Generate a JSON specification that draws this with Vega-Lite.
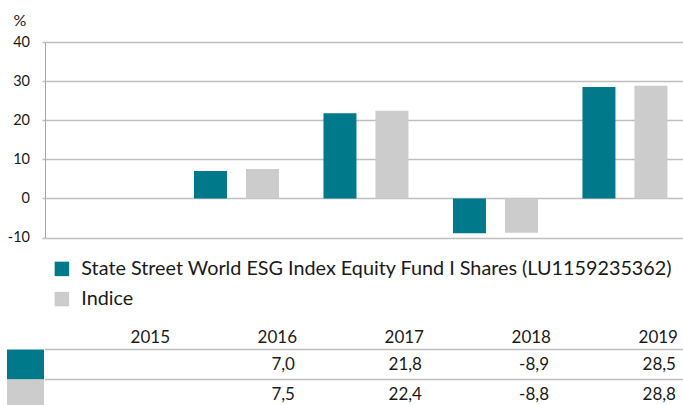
{
  "$schema": "https://vega.github.io/schema/vega-lite/v6.json",
  "padding": {"left": 7, "top": 12, "right": 0, "bottom": 0},
  "bounds": "flush",
  "spacing": 81.5,
  "config": {
    "font": "Lato",
    "view": {"stroke": null},
    "locale": {"number": {"decimal": ",", "thousands": ".", "grouping": [3], "currency": ["", " €"], "minus": "-"}},
    "text": {"color": "#1A1A1A"}
  },
  "datasets": {
    "returns": [
      {"year": "2015", "series": "State Street World ESG Index Equity Fund I Shares (LU1159235362)", "value": null},
      {"year": "2015", "series": "Indice", "value": null},
      {"year": "2016", "series": "State Street World ESG Index Equity Fund I Shares (LU1159235362)", "value": 7.0},
      {"year": "2016", "series": "Indice", "value": 7.5},
      {"year": "2017", "series": "State Street World ESG Index Equity Fund I Shares (LU1159235362)", "value": 21.8},
      {"year": "2017", "series": "Indice", "value": 22.4},
      {"year": "2018", "series": "State Street World ESG Index Equity Fund I Shares (LU1159235362)", "value": -8.9},
      {"year": "2018", "series": "Indice", "value": -8.8},
      {"year": "2019", "series": "State Street World ESG Index Equity Fund I Shares (LU1159235362)", "value": 28.5},
      {"year": "2019", "series": "Indice", "value": 28.8}
    ]
  },
  "data": {"name": "returns"},
  "vconcat": [
    {
      "width": 638,
      "height": 195.5,
      "mark": {"type": "bar"},
      "encoding": {
        "x": {"field": "year", "type": "nominal", "scale": {"domain": ["2015", "2016", "2017", "2018", "2019"], "paddingInner": 0.073, "paddingOuter": 0, "align": 0}, "axis": null},
        "xOffset": {"field": "series", "type": "nominal", "scale": {"domain": ["State Street World ESG Index Equity Fund I Shares (LU1159235362)", "Indice"], "paddingInner": 0.3654, "paddingOuter": 0.337, "align": 0.556}},
        "y": {
          "field": "value", "type": "quantitative",
          "scale": {"domain": [-10, 40], "nice": false, "zero": false},
          "axis": {
            "values": [-10, 0, 10, 20, 30, 40],
            "grid": true, "gridColor": "#BFBFBF", "gridWidth": 1.5,
            "domainColor": "#A6A6A6", "domainWidth": 1,
            "tickColor": "#BFBFBF", "tickSize": 3, "tickWidth": 1.5,
            "labelFontSize": 14.5, "labelColor": "#1A1A1A", "labelPadding": 12.5,
            "title": "%", "titleAngle": 0, "titleAlign": "left", "titleBaseline": "top",
            "titleX": -32, "titleY": -30, "titleFontSize": 16, "titleFontWeight": "normal", "titleColor": "#1A1A1A"
          }
        },
        "color": {
          "field": "series", "type": "nominal",
          "scale": {"domain": ["State Street World ESG Index Equity Fund I Shares (LU1159235362)", "Indice"], "range": ["#007A8A", "#CCCCCC"]},
          "legend": {
            "orient": "none", "legendX": 7, "legendY": 217, "direction": "vertical", "title": null,
            "symbolType": "square", "symbolSize": 210, "symbolStrokeWidth": 0, "symbolOpacity": 1,
            "labelFontSize": 19.8, "labelOffset": 9.5, "rowPadding": 9.2, "labelColor": "#1A1A1A", "labelLimit": 0, "padding": 0
          }
        }
      }
    },
    {
      "width": 638,
      "height": 90,
      "resolve": {"scale": {"x": "independent"}},
      "layer": [
        {
          "transform": [{"aggregate": [{"op": "count", "as": "n"}], "groupby": ["series"]}],
          "mark": {"type": "rect"},
          "encoding": {
            "x": {"datum": "swatch", "type": "nominal", "scale": {"type": "band", "domain": ["swatch"], "range": [-38, -1], "paddingInner": 0, "paddingOuter": 0}, "axis": null},
            "y": {"field": "series", "type": "nominal", "scale": {"type": "band", "domain": ["header", "State Street World ESG Index Equity Fund I Shares (LU1159235362)", "Indice"], "paddingInner": 0, "paddingOuter": 0}, "axis": null},
            "color": {"field": "series", "type": "nominal", "legend": null}
          }
        },
        {
          "transform": [{"aggregate": [{"op": "count", "as": "n"}], "groupby": ["series"]}],
          "mark": {"type": "rule", "color": "#BFBFBF", "strokeWidth": 1.5},
          "encoding": {
            "y": {"field": "series", "type": "nominal", "bandPosition": 0, "scale": {"type": "band", "domain": ["header", "State Street World ESG Index Equity Fund I Shares (LU1159235362)", "Indice"], "paddingInner": 0, "paddingOuter": 0}, "axis": null}
          }
        },
        {
          "transform": [{"filter": "isValid(datum.value)"}],
          "mark": {"type": "text", "align": "right", "baseline": "middle", "fontSize": 17, "dx": -2},
          "encoding": {
            "x": {"field": "year", "type": "nominal", "bandPosition": 1, "scale": {"type": "band", "domain": ["2015", "2016", "2017", "2018", "2019"], "paddingInner": 0.01575, "paddingOuter": 0.0197, "align": 0}, "axis": null},
            "y": {"field": "series", "type": "nominal", "scale": {"type": "band", "domain": ["header", "State Street World ESG Index Equity Fund I Shares (LU1159235362)", "Indice"], "paddingInner": 0, "paddingOuter": 0}, "axis": null},
            "text": {"field": "value", "type": "quantitative", "format": ".1f"}
          }
        },
        {
          "transform": [{"aggregate": [{"op": "count", "as": "n"}], "groupby": ["year"]}],
          "mark": {"type": "text", "align": "right", "baseline": "middle", "fontSize": 17, "dy": 3},
          "encoding": {
            "x": {"field": "year", "type": "nominal", "bandPosition": 1, "scale": {"type": "band", "domain": ["2015", "2016", "2017", "2018", "2019"], "paddingInner": 0.01575, "paddingOuter": 0.0197, "align": 0}, "axis": null},
            "y": {"datum": "header", "type": "nominal", "scale": {"type": "band", "domain": ["header", "State Street World ESG Index Equity Fund I Shares (LU1159235362)", "Indice"], "paddingInner": 0, "paddingOuter": 0}, "axis": null},
            "text": {"field": "year", "type": "nominal"}
          }
        }
      ]
    }
  ]
}
